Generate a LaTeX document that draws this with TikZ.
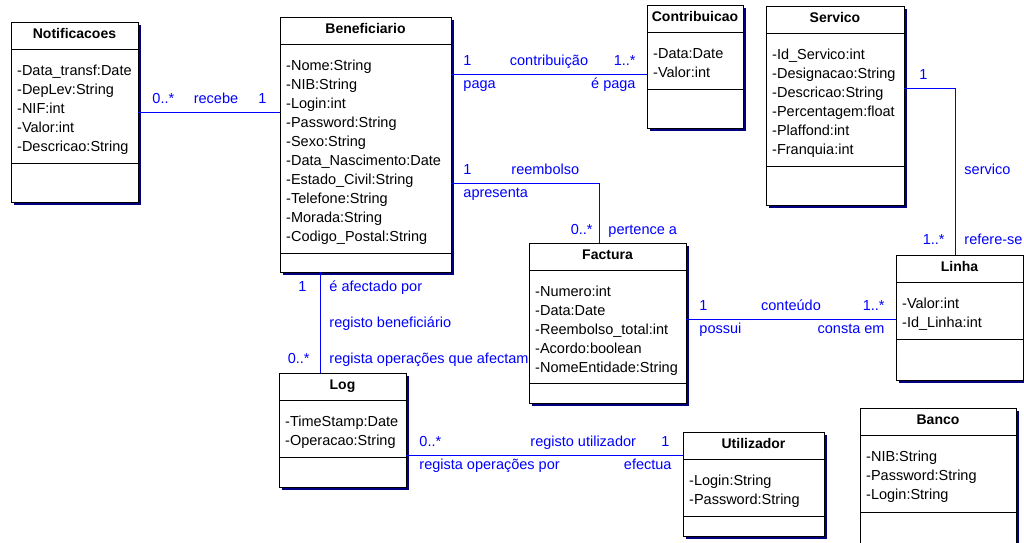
\documentclass[tikz,border=0pt]{standalone}
\usepackage{fontspec}
\setmainfont{Liberation Sans}
\usetikzlibrary{positioning}
\definecolor{umlblue}{RGB}{0,0,255}
\definecolor{umlnavy}{RGB}{0,0,128}
\tikzset{
	classbox/.style={draw=black, fill=white, line width=1pt, inner sep=0pt, outer sep=0pt},
	classline/.style={draw=black, line width=1pt},
	classshadow/.style={fill=umlnavy},
	classtitle/.style={font=\fontsize{14}{19}\selectfont\bfseries, inner sep=0pt, anchor=base},
	attr/.style={font=\fontsize{14.5}{19}\selectfont, inner sep=0pt, anchor=base west},
	assoc/.style={draw=umlblue, line width=0.9pt},
	lbl/.style={text=umlblue, font=\fontsize{14.5}{19}\selectfont, inner sep=0pt},
	srcup/.style={lbl, pos=0, anchor=base west, xshift=12pt, yshift=9pt},
	srcdown/.style={lbl, pos=0, anchor=base west, xshift=12pt, yshift=-14pt},
	dstup/.style={lbl, pos=1, anchor=base east, xshift=-11pt, yshift=9pt},
	dstdown/.style={lbl, pos=1, anchor=base east, xshift=-11pt, yshift=-14pt},
	nameup/.style={lbl, midway, anchor=base, yshift=9pt}
}

% class box: name, x, y, width, height, second rule, title, attributes
\newcommand{\umlclass}[8]{
	\fill[classshadow] ({#2+3},{#3+3}) rectangle ++(#4,#5);
	\node[classbox, minimum width=#4pt, minimum height=#5pt, anchor=north west] (#1) at (#2,#3) {};
	\node[classtitle] (#1-title) at ([yshift=-16.5pt]#1.north) {#7};
	\draw[classline] ([yshift=-27pt]#1.north west) -- ([yshift=-27pt]#1.north east);
	\draw[classline] ([yshift=-#6pt]#1.north west) -- ([yshift=-#6pt]#1.north east);
	\foreach \a [count=\i] in {#8}
		\node[attr] (#1-\i) at ([xshift=6pt, yshift={-53pt-(\i-1)*19pt}]#1.north west) {\a};
}

\begin{document}
\begin{tikzpicture}[x=1pt, y=-1pt]
	\clip (0,0) rectangle (1024,542);

	\umlclass{notif}{11}{22}{127}{180}{141}{Notificacoes}{-Data\_transf:Date, -DepLev:String, -NIF:int, -Valor:int, -Descricao:String}
	\umlclass{benef}{280}{17}{171}{255}{236}{Beneficiario}{-Nome:String, -NIB:String, -Login:int, -Password:String, -Sexo:String, -Data\_Nascimento:Date, -Estado\_Civil:String, -Telefone:String, -Morada:String, -Codigo\_Postal:String}
	\umlclass{contr}{647}{5}{96}{123}{84}{Contribuicao}{-Data:Date, -Valor:int}
	\umlclass{servico}{766}{6}{138}{199}{160}{Servico}{-Id\_Servico:int, -Designacao:String, -Descricao:String, -Percentagem:float, -Plaffond:int, -Franquia:int}
	\umlclass{factura}{529}{243}{157}{160}{140}{Factura}{-Numero:int, -Data:Date, -Reembolso\_total:int, -Acordo:boolean, -NomeEntidade:String}
	\umlclass{linha}{896}{255}{127}{125}{84}{Linha}{-Valor:int, -Id\_Linha:int}
	\umlclass{logbox}{279}{373}{127}{114}{84}{Log}{-TimeStamp:Date, -Operacao:String}
	\umlclass{util}{683}{432}{141}{104}{84}{Utilizador}{-Login:String, -Password:String}
	\umlclass{banco}{860}{408}{156}{140}{104}{Banco}{-NIB:String, -Password:String, -Login:String}

	\coordinate (benef-pay) at ([yshift=-57pt]benef.north east);
	\coordinate (benef-refund) at ([yshift=-166pt]benef.north east);
	\coordinate (benef-log) at ([xshift=40pt]benef.south west);
	\coordinate (fact-top) at ([xshift=70pt]factura.north west);
	\coordinate (fact-line) at ([yshift=-76pt]factura.north east);
	\coordinate (serv-line) at ([yshift=-82pt]servico.north east);
	\coordinate (linha-top) at ([xshift=59pt]linha.north west);
	\coordinate (log-user) at ([yshift=-82pt]logbox.north east);

	\draw[assoc] (notif.east) -- (notif.east -| benef.west)
		node[srcup, xshift=2pt] (rec-a) {0..*}
		node[nameup, xshift=7pt] (rec-n) {recebe}
		node[dstup, xshift=-2pt] (rec-b) {1};
	\draw[assoc] (benef-pay) -- (benef-pay -| contr.west)
		node[srcup] (con-a) {1}
		node[srcdown] (con-ar) {paga}
		node[nameup] (con-n) {contribuição}
		node[dstup] (con-b) {1..*}
		node[dstdown] (con-br) {é paga};
	\draw[assoc] (benef-refund) -| (fact-top)
		node[srcup] (ree-a) {1}
		node[srcdown] (ree-ar) {apresenta}
		node[lbl, pos=0, anchor=base west, xshift=60pt, yshift=9pt] (ree-n) {reembolso}
		node[lbl, pos=1, anchor=base east, xshift=-6pt, yshift=9pt] (ree-b) {0..*}
		node[lbl, pos=1, anchor=base west, xshift=9pt, yshift=9pt] (ree-br) {pertence a};
	\draw[assoc] (serv-line) -| (linha-top)
		node[lbl, pos=0, anchor=base west, xshift=15pt, yshift=9pt] (ser-a) {1}
		node[lbl, pos=0.75, anchor=base west, xshift=9pt, yshift=-2.5pt] (ser-n) {servico}
		node[lbl, pos=1, anchor=base east, xshift=-10pt, yshift=11pt] (ser-b) {1..*}
		node[lbl, pos=1, anchor=base west, xshift=9pt, yshift=11pt] (ser-br) {refere-se};
	\draw[assoc] (fact-line) -- (fact-line -| linha.west)
		node[srcup, xshift=1pt] (cnt-a) {1}
		node[srcdown, xshift=1pt] (cnt-ar) {possui}
		node[nameup] (cnt-n) {conteúdo}
		node[dstup] (cnt-b) {1..*}
		node[dstdown] (cnt-br) {consta em};
	\draw[assoc] (benef-log) -- (benef-log |- logbox.north)
		node[lbl, pos=0, anchor=base east, xshift=-13pt, yshift=-19pt] (rgb-a) {1}
		node[lbl, pos=0, anchor=base west, xshift=9pt, yshift=-19pt] (rgb-ar) {é afectado por}
		node[lbl, midway, anchor=base west, xshift=9pt, yshift=-4.5pt] (rgb-n) {registo beneficiário}
		node[lbl, pos=1, anchor=base east, xshift=-10pt, yshift=10pt] (rgb-b) {0..*}
		node[lbl, pos=1, anchor=base west, xshift=9pt, yshift=10pt] (rgb-br) {regista operações que afectam};
	\draw[assoc] (log-user) -- (log-user -| util.west)
		node[srcup, xshift=1pt] (rgu-a) {0..*}
		node[srcdown, xshift=1pt] (rgu-ar) {regista operações por}
		node[lbl, pos=0, anchor=base west, xshift=124pt, yshift=9pt] (rgu-n) {registo utilizador}
		node[dstup, xshift=-2pt] (rgu-b) {1}
		node[dstdown] (rgu-br) {efectua};
\end{tikzpicture}
\end{document}
